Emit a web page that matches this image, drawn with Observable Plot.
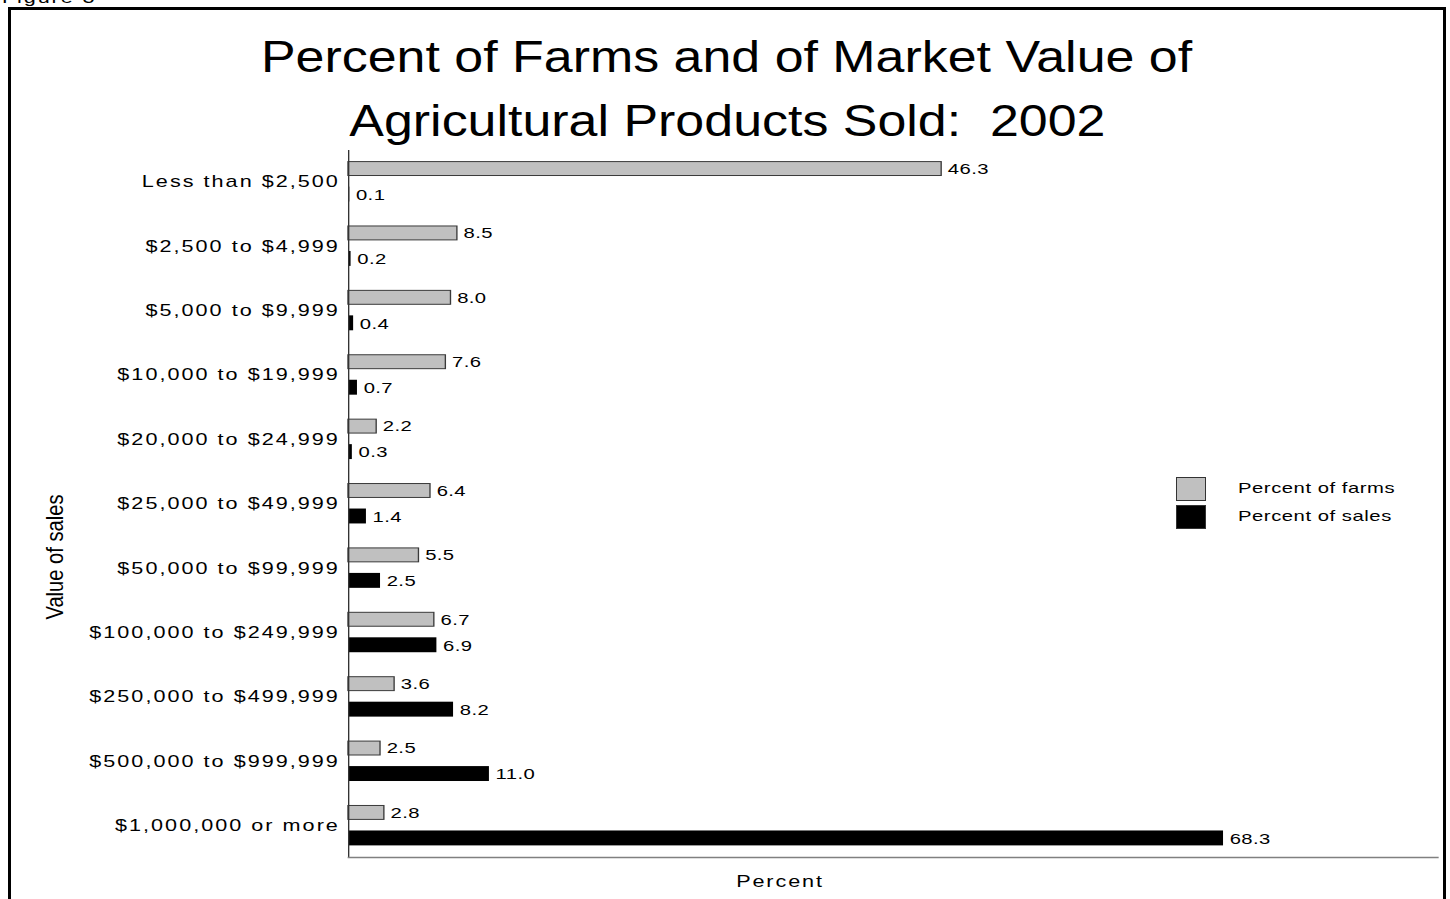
<!DOCTYPE html>
<html>
<head>
<meta charset="utf-8">
<script src="https://cdn.jsdelivr.net/npm/d3@7"></script>
<script src="https://cdn.jsdelivr.net/npm/@observablehq/plot@0.6"></script>
<style>
html, body { margin: 0; padding: 0; background: #fff; overflow: hidden; }
body { width: 1450px; height: 899px; position: relative; font-family: "Liberation Sans", Arial, sans-serif; color: #000; }
#frame { position: absolute; left: 8px; top: 7px; width: 1432px; height: 1000px; border: 3px solid #000; }
.sx { display: inline-block; transform: scaleX(1.35); transform-origin: 0 50%; white-space: pre; }
#fig { position: absolute; left: 2px; top: -10.5px; font-size: 16px; line-height: 16px; letter-spacing: 1.4px; }
.title { position: absolute; left: 0; width: 1454px; text-align: center; font-size: 44px; line-height: 44px; }
.title span { display: inline-block; transform: scaleX(1.18); transform-origin: 50% 50%; white-space: pre; }
#chart { position: absolute; left: 0; top: 0; width: 1450px; height: 899px; }
#chart svg { transform: scaleX(1.35); transform-origin: 0 0; letter-spacing: 0.3px; max-width: none !important; }
#chart svg g[aria-label="y-axis tick label"] { letter-spacing: 1.5px; }
.sw { position: absolute; left: 1176px; width: 28px; height: 22px; border: 1px solid #333; }
.lt { position: absolute; left: 1238px; font-size: 15px; line-height: 15px; letter-spacing: 0.4px; }
#xlab { position: absolute; left: 779.5px; top: 874px; transform: translateX(-50%) scaleX(1.35); transform-origin: 50% 50%; font-size: 16px; line-height: 16px; letter-spacing: 1.4px; white-space: pre; }
#ylab { position: absolute; left: 54.5px; top: 557px; transform: translate(-50%, -50%) rotate(-90deg) scaleX(0.84); font-size: 24px; line-height: 24px; white-space: pre; }
</style>
</head>
<body>
<div id="fig"><span class="sx">Figure 3</span></div>
<div id="frame"></div>
<div class="title" style="top:35px"><span>Percent of Farms and of Market Value of</span></div>
<div class="title" style="top:99px"><span>Agricultural Products Sold:  2002</span></div>
<div id="chart"></div>
<div class="sw" style="top:477px;background:#c0c0c0"></div>
<div class="sw" style="top:505px;background:#000"></div>
<div class="lt" style="top:480px"><span class="sx" id="l1"></span></div>
<div class="lt" style="top:508px"><span class="sx" id="l2"></span></div>
<div id="xlab">Percent</div>
<div id="ylab">Value of sales</div>
<script>
const categories = [
  "Less than $2,500",
  "$2,500 to $4,999",
  "$5,000 to $9,999",
  "$10,000 to $19,999",
  "$20,000 to $24,999",
  "$25,000 to $49,999",
  "$50,000 to $99,999",
  "$100,000 to $249,999",
  "$250,000 to $499,999",
  "$500,000 to $999,999",
  "$1,000,000 or more"
];
const farms = [46.3, 8.5, 8.0, 7.6, 2.2, 6.4, 5.5, 6.7, 3.6, 2.5, 2.8];
const sales = [0.1, 0.2, 0.4, 0.7, 0.3, 1.4, 2.5, 6.9, 8.2, 11.0, 68.3];
const seriesNames = ["Percent of farms", "Percent of sales"];

document.getElementById("l1").textContent = seriesNames[0];
document.getElementById("l2").textContent = seriesNames[1];

const farmRows = categories.map((c, i) => ({category: c, value: farms[i]}));
const salesRows = categories.map((c, i) => ({category: c, value: sales[i]}));
const fmt = d3.format(".1f");

// The chart is drawn in a horizontally compressed frame, then stretched by S
// (the reference's text is horizontally widened).
const S = 1.35;
const chart = Plot.plot({
  width: 1450 / S,
  height: 899,
  marginLeft: 348 / S,
  marginRight: 13 / S,
  marginTop: 150,
  marginBottom: 42,
  style: {fontFamily: "'Liberation Sans', Arial, sans-serif", background: "transparent", color: "#000", overflow: "visible"},
  x: {domain: [0, 85], axis: null},
  y: {domain: categories, paddingInner: 0.38, paddingOuter: 0.18, round: false, label: null},
  marks: [
    Plot.barX(farmRows, {x: "value", y: "category", fill: "#c0c0c0", stroke: "#3a3a3a", strokeWidth: 1, insetBottom: 26}),
    Plot.barX(salesRows, {x: "value", y: "category", fill: "#000", insetTop: 25}),
    Plot.text(farmRows, {x: "value", y: "category", text: d => fmt(d.value), dx: 6 / S, dy: -13, textAnchor: "start", fontSize: 15, fill: "#000"}),
    Plot.text(salesRows, {x: "value", y: "category", text: d => fmt(d.value), dx: 6 / S, dy: 13, textAnchor: "start", fontSize: 15, fill: "#000"}),
    Plot.ruleX([0], {stroke: "#333", strokeWidth: 1}),
    Plot.frame({anchor: "bottom", stroke: "#808080", strokeWidth: 1.5}),
    Plot.axisY({tickSize: 0, tickPadding: 6.5, fontSize: 16, label: null})
  ]
});
document.getElementById("chart").appendChild(chart);
</script>
</body>
</html>
